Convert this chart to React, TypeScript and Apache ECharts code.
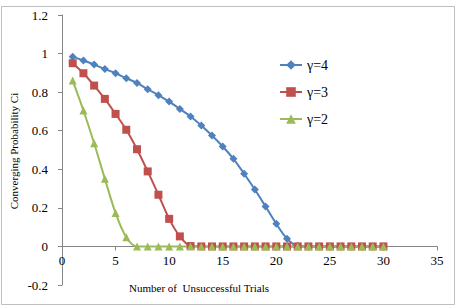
import React, { useEffect, useRef } from "react";
import * as echarts from "echarts";

const trials = Array.from({ length: 30 }, (_, i) => i + 1);
const gamma4 = [0.984, 0.964, 0.943, 0.92, 0.898, 0.872, 0.848, 0.815, 0.784, 0.751, 0.713, 0.674, 0.627, 0.575, 0.518, 0.454, 0.377, 0.295, 0.207, 0.117, 0.04, 0.003, 0, 0, 0, 0, 0, 0, 0, 0];
const gamma3 = [0.95, 0.898, 0.834, 0.765, 0.687, 0.605, 0.504, 0.389, 0.268, 0.143, 0.052, 0.002, 0, 0, 0, 0, 0, 0, 0, 0, 0, 0, 0, 0, 0, 0, 0, 0, 0, 0];
const gamma2 = [0.86, 0.705, 0.535, 0.351, 0.173, 0.048, 0, 0, 0, 0, 0, 0, 0, 0, 0, 0, 0, 0, 0, 0, 0, 0, 0, 0, 0, 0, 0, 0, 0, 0];
const seriesNames = ["γ=4", "γ=3", "γ=2"];
const xAxisTitle = "Number of  Unsuccessful Trials";
const yAxisTitle = "Converging Probability Ci";

const FONT = "'Times New Roman', 'Liberation Serif', serif";

const GRID_TOP = 15;
const GRID_BOTTOM = 23;
const CHART_H = 308;
const Y_MIN = -0.2;
const Y_MAX = 1.2;

export default function App() {
  const ref = useRef<HTMLDivElement>(null);
  useEffect(() => {
    document.body.style.margin = "0";
    const chart = echarts.init(ref.current!, null, { renderer: "svg" });
    const pair = (arr: number[]) => trials.map((t, i) => [t, arr[i]]);
    const mk = (name: string, data: number[], color: string, symbol: string, size: number) => ({
      name,
      type: "line",
      data: pair(data),
      smooth: 0.3,
      symbol,
      symbolSize: size,
      lineStyle: { color, width: 2 },
      itemStyle: { color },
    });
    const gridH = CHART_H - GRID_TOP - GRID_BOTTOM;
    const zeroOffset = -(gridH * (0 - Y_MIN)) / (Y_MAX - Y_MIN);
    chart.setOption({
      animation: false,
      backgroundColor: "#fff",
      grid: { left: 62, right: 24, top: GRID_TOP, bottom: GRID_BOTTOM, containLabel: false },
      legend: {
        orient: "vertical",
        left: 274,
        top: 53,
        itemWidth: 22,
        itemHeight: 12,
        itemGap: 13,
        textStyle: { fontFamily: FONT, fontSize: 14, color: "#000" },
        data: seriesNames,
      },
      xAxis: {
        type: "value",
        min: 0,
        max: 35,
        interval: 5,
        position: "bottom",
        offset: zeroOffset,
        axisLine: { onZero: false, lineStyle: { color: "#868686", width: 1 } },
        axisTick: { show: true, length: 4, lineStyle: { color: "#868686" } },
        axisLabel: { fontFamily: FONT, fontSize: 13, color: "#000", margin: 8 },
        splitLine: { show: false },
      },
      yAxis: {
        type: "value",
        min: Y_MIN,
        max: Y_MAX,
        interval: 0.2,
        axisLine: { show: true, lineStyle: { color: "#868686", width: 1 } },
        axisTick: { show: true, length: 4, lineStyle: { color: "#868686" } },
        axisLabel: { fontFamily: FONT, fontSize: 13, color: "#000", margin: 14 },
        splitLine: { show: false },
      },
      graphic: [
        {
          type: "rect",
          shape: { x: 1.5, y: 6.5, width: 453, height: 298 },
          style: { fill: "none", stroke: "#BFBFBF", lineWidth: 1 },
          silent: true,
          z: -1,
        },
        {
          type: "text",
          x: 199,
          y: 288,
          style: { text: xAxisTitle, fontFamily: FONT, fontSize: 11, fill: "#000", align: "center", verticalAlign: "middle" },
        },
        {
          type: "text",
          x: 14,
          y: 151,
          rotation: Math.PI / 2,
          style: { text: yAxisTitle, fontFamily: FONT, fontSize: 11, fill: "#000", align: "center", verticalAlign: "middle" },
        },
      ],
      series: [
        mk(seriesNames[0], gamma4, "#4F81BD", "diamond", 8),
        mk(seriesNames[1], gamma3, "#C0504D", "rect", 8),
        mk(seriesNames[2], gamma2, "#9BBB59", "triangle", 8),
      ],
    });
    return () => chart.dispose();
  }, []);
  return <div ref={ref} style={{ width: 461, height: 308 }} />;
}
